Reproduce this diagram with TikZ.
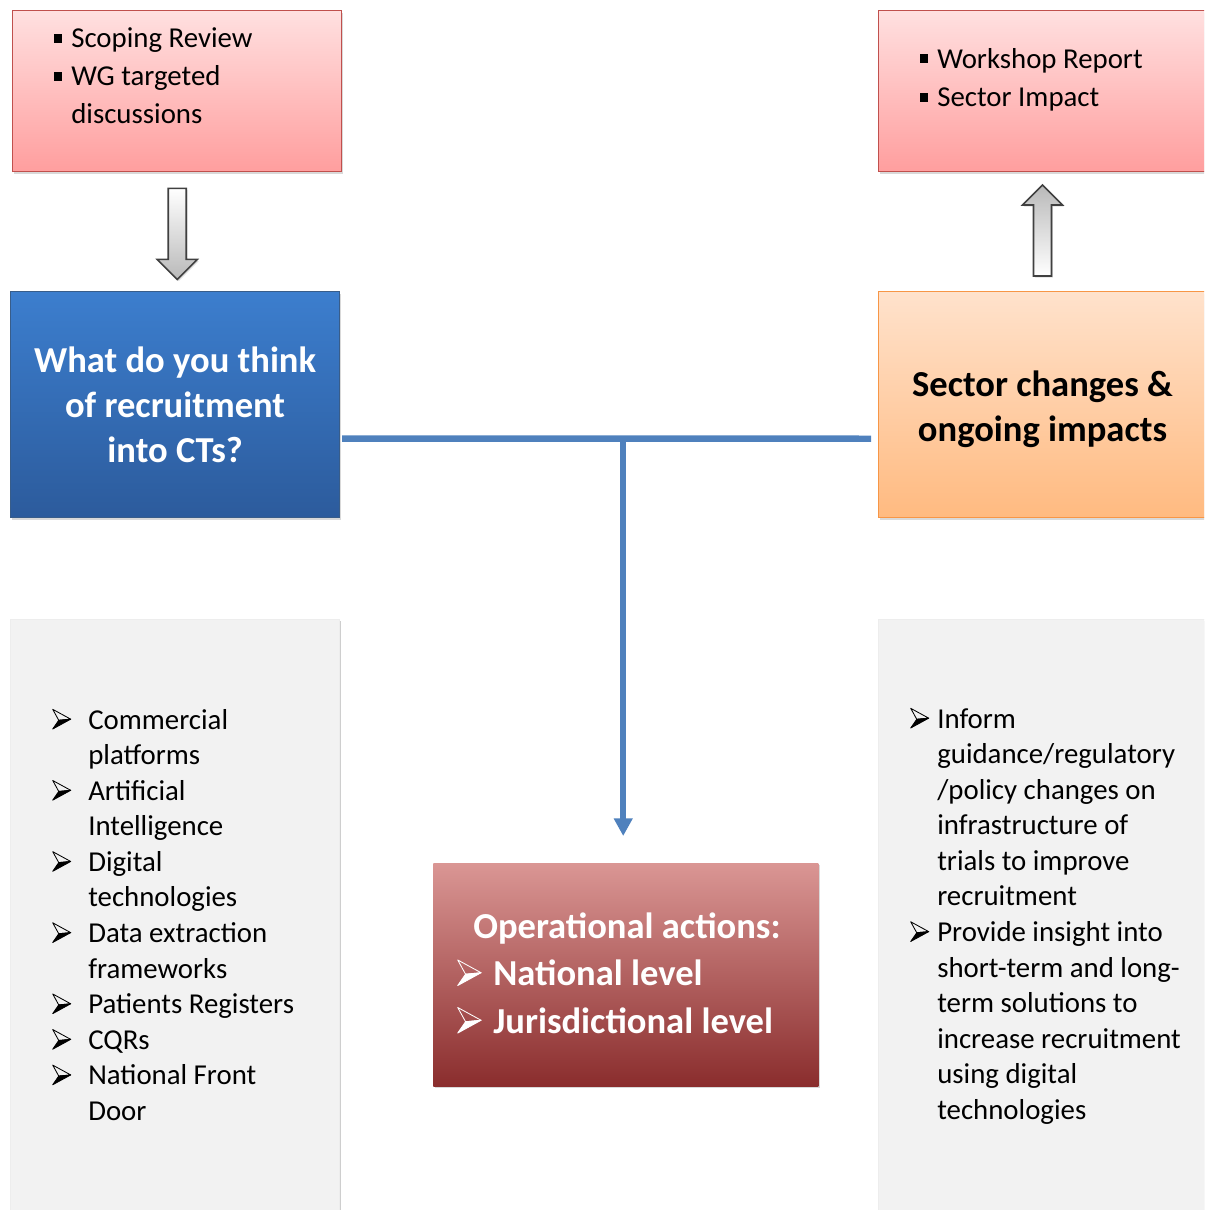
\documentclass[tikz,border=0pt]{standalone}
\usepackage{fontspec}
\setmainfont{Carlito}
\definecolor{pinktop}{RGB}{255,224,224}
\definecolor{pinkbot}{RGB}{255,158,158}
\definecolor{pinkedge}{RGB}{192,80,77}
\definecolor{bluetop}{RGB}{60,126,206}
\definecolor{bluebot}{RGB}{44,91,156}
\definecolor{blueedge}{RGB}{56,93,138}
\definecolor{orangetop}{RGB}{255,226,204}
\definecolor{orangebot}{RGB}{255,186,128}
\definecolor{orangeedge}{RGB}{247,150,70}
\definecolor{redtop}{RGB}{218,150,148}
\definecolor{redbot}{RGB}{138,45,45}
\definecolor{linkblue}{RGB}{79,129,189}
\definecolor{greyfill}{RGB}{242,242,242}
\usetikzlibrary{arrows.meta,calc,shadows}

%% bullets
\newcommand{\sqb}{\makebox[0.425cm][l]{\rule[0.17em]{0.28em}{0.3em}}}
\newcommand{\arwglyph}[2]{% colour, scale
  \tikz[baseline=0pt,x=#2pt,y=#2pt,line width=0.6pt,line join=round]{%
    \filldraw[draw=#1,fill=#1] (4.3,6.2) -- (12.8,7) -- (0,0) -- cycle;
    \draw[#1] (0,14) -- (12.8,7) -- (4.3,6.2) -- cycle;}}
\newcommand{\arb}[1]{\makebox[#1][l]{\arwglyph{black}{1}}}
\newcommand{\arbw}[1]{\makebox[#1][l]{\arwglyph{white}{1.3}}}
\newcommand{\ind}[1]{\hspace*{#1}}

\begin{document}
\begin{tikzpicture}[x=0.025cm,y=-0.025cm,
    box/.style={anchor=north west,inner sep=0,minimum width=8.225cm,align=center,
                drop shadow={opacity=.3,shadow xshift=1.2pt,shadow yshift=-1.5pt}},
    wide/.style={minimum width=9cm},
    pinkbox/.style={box,draw=pinkedge,line width=1pt,top color=pinktop,
                    bottom color=pinkbot,minimum height=4.025cm},
    bluebox/.style={box,draw=blueedge,line width=0.8pt,top color=bluetop,
                    bottom color=bluebot,minimum height=5.65cm,text=white,
                    font=\bfseries\fontsize{26}{32}\selectfont},
    orangebox/.style={box,draw=orangeedge,line width=1pt,top color=orangetop,
                      bottom color=orangebot,minimum height=5.65cm},
    greybox/.style={box,fill=greyfill,draw=black!7,line width=0.5pt,minimum height=15.3cm,
                    drop shadow={opacity=.12,shadow xshift=0.8pt,shadow yshift=-1pt}},
    redbox/.style={box,top color=redtop,bottom color=redbot,minimum width=9.625cm,
                   minimum height=5.575cm},
    listtext/.style={anchor=base west,inner sep=0,font=\fontsize{20.5}{25.3}\selectfont},
    hollowarrow/.style={draw=black!75,line width=1.1pt,line join=miter,
                        drop shadow={opacity=.25,shadow xshift=1pt,shadow yshift=-1.2pt}},
    link/.style={draw=linkblue,line width=4.6pt}]
  \useasboundingbox (0,0) rectangle (1204,1210);
  \clip (0,0) rectangle (1204,1210);

  %% Boxes
  \node[pinkbox] (lit) at (12,10) {};
  \node[pinkbox,wide] (rep) at (878,10) {};
  \node[bluebox] (ques) at (10,291) {What do you think\\of recruitment\\into CTs?};
  \node[orangebox,wide] (sect) at (878,291) {};
  \node[greybox] (tools) at (10,619) {};
  \node[greybox,wide] (aims) at (878,619) {};
  \node[redbox] (ops) at (433,863) {};

  %% Box texts
  \node[align=center,inner sep=0,font=\bfseries\fontsize{26}{32}\selectfont] (secttxt)
    at ($(sect.north west)+(164.5,118)$) {Sector changes \&\\ongoing impacts};
  \node[listtext,font=\fontsize{20.5}{27}\selectfont] (littxt) at (54,48)
    {\begin{tabular}[t]{@{}l@{}}
      \sqb Scoping Review\\
      \sqb WG targeted\\
      \ind{0.425cm}discussions
    \end{tabular}};
  \node[listtext,font=\fontsize{20.5}{27.5}\selectfont] (reptxt) at (920,68)
    {\begin{tabular}[t]{@{}l@{}}
      \sqb Workshop Report\\
      \sqb Sector Impact
    \end{tabular}};
  \node[listtext] (toolstxt) at (52,729)
    {\begin{tabular}[t]{@{}l@{}}
      \arb{0.9cm}Commercial\\
      \ind{0.9cm}platforms\\
      \arb{0.9cm}Artificial\\
      \ind{0.9cm}Intelligence\\
      \arb{0.9cm}Digital\\
      \ind{0.9cm}technologies\\
      \arb{0.9cm}Data extraction\\
      \ind{0.9cm}frameworks\\
      \arb{0.9cm}Patients Registers\\
      \arb{0.9cm}CQRs\\
      \arb{0.9cm}National Front\\
      \ind{0.9cm}Door
    \end{tabular}};
  \node[listtext] (aimstxt) at (910,728)
    {\begin{tabular}[t]{@{}l@{}}
      \arb{0.675cm}Inform\\
      \ind{0.675cm}guidance/regulatory\\
      \ind{0.675cm}/policy changes on\\
      \ind{0.675cm}infrastructure of\\
      \ind{0.675cm}trials to improve\\
      \ind{0.675cm}recruitment\\
      \arb{0.675cm}Provide insight into\\
      \ind{0.675cm}short-term and long-\\
      \ind{0.675cm}term solutions to\\
      \ind{0.675cm}increase recruitment\\
      \ind{0.675cm}using digital\\
      \ind{0.675cm}technologies
    \end{tabular}};
  \node[listtext,text=white,font=\bfseries\fontsize{26}{33.8}\selectfont] (opstxt) at (457,938)
    {\begin{tabular}[t]{@{}l@{}}
      \ind{0.4cm}Operational actions:\\
      \arbw{0.9cm}National level\\
      \arbw{0.9cm}Jurisdictional level
    \end{tabular}};

  %% Block arrows
  \draw[hollowarrow,top color=white,bottom color=gray!55]
    ($(lit.south)+(-9,16)$) -- ++(18,0) -- ++(0,71) -- ++(11,0)
    -- ++(-20,20) -- ++(-20,-20) -- ++(11,0) -- cycle;
  \draw[hollowarrow,top color=gray!55,bottom color=white]
    ($(sect.north west)+(155.5,-15)$) -- ++(18,0) -- ++(0,-71) -- ++(11,0)
    -- ++(-20,-20) -- ++(-20,20) -- ++(11,0) -- cycle;

  %% Connectors
  \coordinate (jn) at ($(ques.east)+(283,34)$);
  \coordinate (tip) at ($(ops.north)+(0,-27)$);
  \draw[link] ($(ques.east)+(2,34)$) -- ($(sect.west)+(-7,34)$);
  \draw[link,-{Triangle[length=12.6pt,width=12.8pt]}] (jn) -- (jn |- tip);
\end{tikzpicture}
\end{document}
